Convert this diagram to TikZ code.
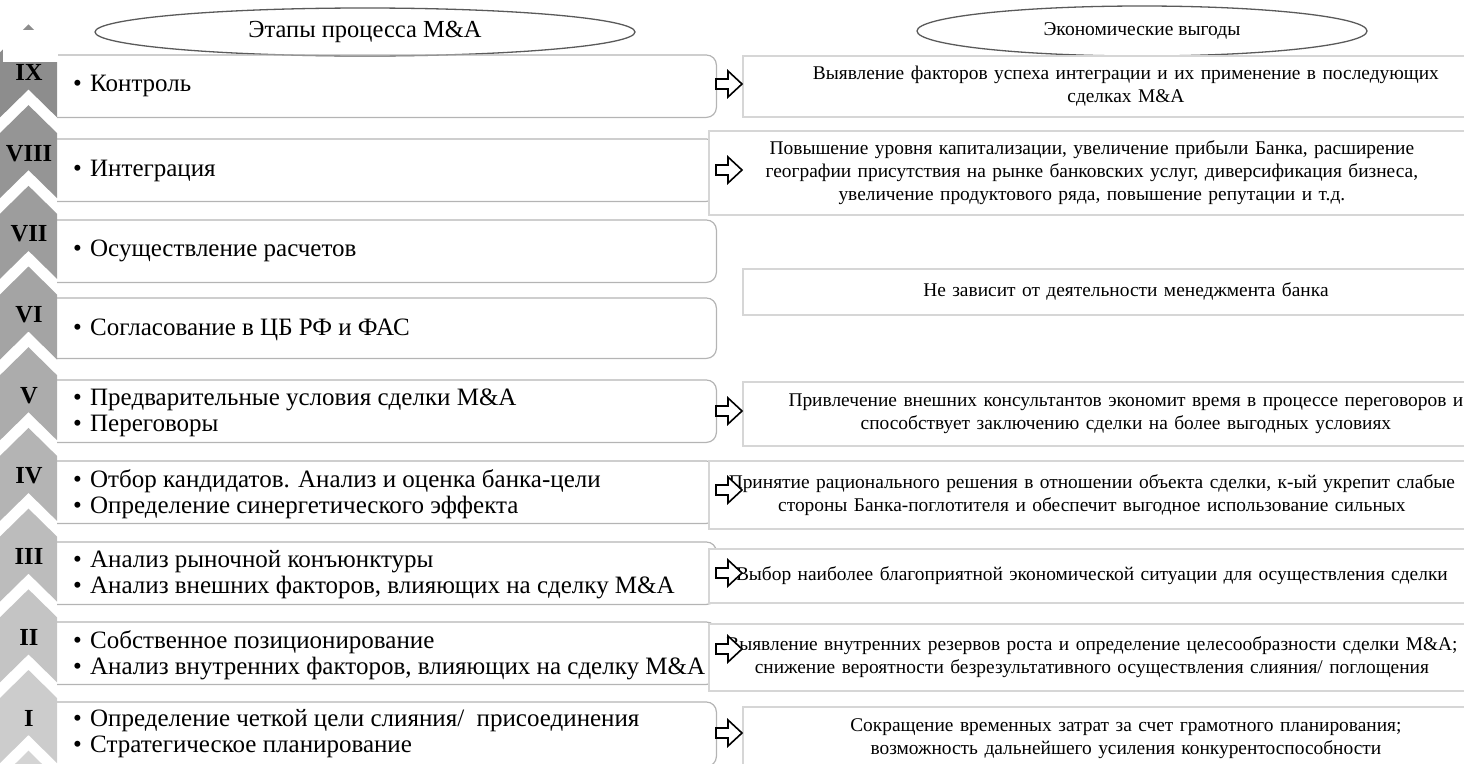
\documentclass[tikz,border=0pt]{standalone}
\usepackage{fontspec}
\setmainfont{Liberation Serif}
\usetikzlibrary{shapes.geometric}
\definecolor{lboxc}{HTML}{B4B4B4}
\definecolor{rboxc}{HTML}{D6D6D6}
\definecolor{hdrc}{HTML}{5A5A5A}
\newcommand{\blt}{\makebox[17pt][l]{•}}
\begin{document}
\begin{tikzpicture}[x=1pt,y=-1pt,
  lbox/.style={draw=none, anchor=north west, minimum width=659pt, inner sep=0pt},
  lline/.style={draw=lboxc, line width=1.2pt},
  rbox/.style={draw=rboxc, line width=1.8pt, fill=white, anchor=north west, inner sep=0pt, text width=762pt, align=center, font=\fontsize{19.4}{23}\selectfont},
  ltext/.style={anchor=west, font=\fontsize{25}{26}\selectfont, align=left, inner sep=0pt},
  numeral/.style={font=\fontsize{24.5}{24}\selectfont\bfseries, inner sep=0pt},
  header/.style={draw=hdrc, line width=1.3pt, ellipse, inner sep=0pt},
  barrow/.style={draw=black, line width=1.6pt, fill=white, line join=miter},
  barr/.pic={\draw[barrow] (0,-5) -- (12,-5) -- (12,-13) -- (26,0) -- (12,13) -- (12,5) -- (0,5) -- cycle;}
]
\useasboundingbox (0,0) rectangle (1464,763);
\clip (0,0) rectangle (1464,763);

% headers
\node[header, minimum width=540pt, minimum height=48pt, font=\fontsize{24.5}{25}\selectfont] (H1) at (365,32) {Этапы процесса M\&A};
\node[header, minimum width=450pt, minimum height=50pt, font=\fontsize{19.5}{20}\selectfont] (H2) at (1142,31) {Экономические выгоды};

% left boxes
\node[lbox, minimum height=62pt] (L9) at (57,55) {};
\node[lbox, minimum height=62pt] (L8) at (57,139) {};
\node[lbox, minimum height=62pt] (L7) at (57,220) {};
\node[lbox, minimum height=60pt] (L6) at (57,298) {};
\node[lbox, minimum height=62pt] (L5) at (57,380) {};
\node[lbox, minimum height=62pt] (L4) at (57,461) {};
\node[lbox, minimum height=62pt] (L3) at (57,542) {};
\node[lbox, minimum height=62pt] (L2) at (57,622) {};
\node[lbox, minimum height=64pt] (L1) at (57,702) {};
\foreach \b in {L9,L8,L7,L6,L5,L4,L3,L2,L1}{
  \draw[lline] (\b.north west) [rounded corners=10pt] -- (\b.north east) -- (\b.south east) [sharp corners] -- (\b.south west);
}

% right boxes
\node[rbox, minimum width=766pt, minimum height=61pt] (R9) at (742,55)
  {Выявление факторов успеха интеграции и их применение в последующих\\сделках M\&A};
\node[rbox, minimum width=766pt, minimum height=84pt] (R8) at (708,130)
  {Повышение уровня капитализации, увеличение прибыли Банка, расширение\\географии присутствия на рынке банковских услуг, диверсификация бизнеса,\\увеличение продуктового ряда, повышение репутации и т.д.};
\node[rbox, minimum width=766pt, minimum height=46pt] (R6) at (742,268)
  {Не зависит от деятельности менеджмента банка};
\node[rbox, minimum width=766pt, minimum height=64pt] (R5) at (742,381)
  {Привлечение внешних консультантов экономит время в процессе переговоров и\\способствует заключению сделки на более выгодных условиях};
\node[rbox, minimum width=766pt, minimum height=68pt] (R4) at (708,460)
  {Принятие рационального решения в отношении объекта сделки, к-ый укрепит слабые\\стороны Банка-поглотителя и обеспечит выгодное использование сильных};
\node[rbox, minimum width=766pt, minimum height=54pt] (R3) at (708,548)
  {Выбор наиболее благоприятной экономической ситуации для осуществления сделки};
\node[rbox, minimum width=766pt, minimum height=67pt] (R2) at (708,623)
  {Выявление внутренних резервов роста и определение целесообразности сделки M\&A;\\снижение вероятности безрезультативного осуществления слияния/ поглощения};
\node[rbox, minimum width=766pt, minimum height=64pt] (R1) at (742,706)
  {Сокращение временных затрат за счет грамотного планирования;\\возможность дальнейшего усиления конкурентоспособности};

% chevrons
\foreach \k in {-1,0,...,8}{
  \pgfmathsetmacro\t{670-80.7*\k}
  \pgfmathsetmacro\lv{0.80-0.031*\k}
  \definecolor{chc}{gray}{\lv}
  \fill[chc] (0,\t+28) -- (28.5,\t) -- (57,\t+28) -- (57,\t+93) -- (28.5,\t+65) -- (0,\t+93) -- cycle;
}
\fill[white] (3,30) rectangle (57.5,62);
\fill[white] (0,30) rectangle (3,48);

% numerals
\node[numeral] (N9) at (29,72.5) {IX};
\node[numeral] (N8) at (29,153.2) {VIII};
\node[numeral] (N7) at (29,233.9) {VII};
\node[numeral] (N6) at (29,314.6) {VI};
\node[numeral] (N5) at (29,395.3) {V};
\node[numeral] (N4) at (29,476) {IV};
\node[numeral] (N3) at (29,556.7) {III};
\node[numeral] (N2) at (29,637.4) {II};
\node[numeral] (N1) at (29,718) {I};

% left texts
\node[ltext] (T9) at (73,86) {\blt Контроль};
\node[ltext] (T8) at (73,171) {\blt Интеграция};
\node[ltext] (T7) at (73,251) {\blt Осуществление расчетов};
\node[ltext] (T6) at (73,330) {\blt Согласование в ЦБ РФ и ФАС};
\node[ltext] (T5) at (73,413) {\blt Предварительные условия сделки M\&A\\\blt Переговоры};
\node[ltext] (T4) at (73,494) {\blt Отбор кандидатов. Анализ и оценка банка-цели\\\blt Определение синергетического эффекта};
\node[ltext] (T3) at (73,575) {\blt Анализ рыночной конъюнктуры\\\blt Анализ внешних факторов, влияющих на сделку M\&A};
\node[ltext] (T2) at (73,655) {\blt Собственное позиционирование\\\blt Анализ внутренних факторов, влияющих на сделку M\&A};
\node[ltext] (T1) at (73,734) {\blt Определение четкой цели слияния/\ \ присоединения\\\blt Стратегическое планирование};

% block arrows
\pic at (716,84) {barr};
\pic at (716,170) {barr};
\pic at (716,411) {barr};
\pic at (716,490) {barr};
\pic at (716,573) {barr};
\pic at (716,649) {barr};
\pic at (716,733) {barr};
\end{tikzpicture}
\end{document}
